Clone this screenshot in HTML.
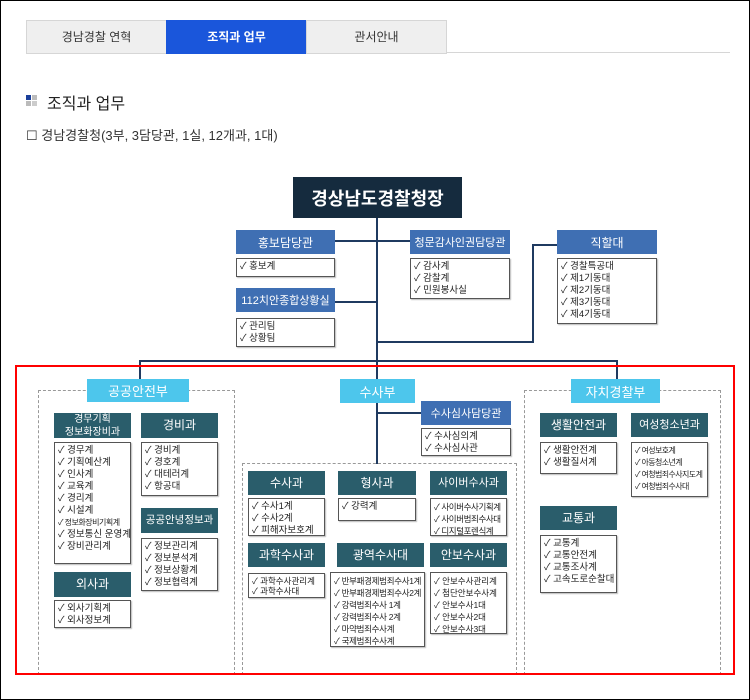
<!DOCTYPE html>
<html><head><meta charset="utf-8"><style>
*{margin:0;padding:0;box-sizing:border-box}
body{width:750px;height:700px;position:relative;background:#fff;font-family:"Liberation Sans","Noto Sans CJK KR",sans-serif;overflow:hidden}
.a{position:absolute}
.frame{left:0;top:0;width:750px;height:700px;border:1px solid #000}
.tab{top:20px;height:34px;border:1px solid #d6d6d6;background:#efefef;font-size:12px;color:#333;text-align:center;line-height:32px}
.t{background:#2a5d6b;color:#fff;text-align:center;font-size:12px;display:flex;align-items:center;justify-content:center;line-height:13px}
.b{background:#3f6fb3;color:#fff;text-align:center;font-size:11px;display:flex;align-items:center;justify-content:center}
.c{background:#4dc6ec;color:#fff;text-align:center;font-size:13px;display:flex;align-items:center;justify-content:center}
.l{border:1px solid #555;background:#fff;font-size:9.5px;line-height:12px;padding:2px 3px;color:#222;white-space:nowrap;overflow:hidden;box-shadow:1px 1px 1px #bbb}
.d{border:1px dashed #999}
.h{background:#1f3a60}
</style></head><body>
<div class="a frame"></div>
<div class="a tab" style="left:26px;width:141px">경남경찰 연혁</div>
<div class="a tab" style="left:166px;width:141px;background:#1a56db;border-color:#1a56db;color:#fff;font-weight:bold">조직과 업무</div>
<div class="a tab" style="left:306px;width:141px">관서안내</div>
<div class="a" style="left:446px;top:52px;width:284px;height:1px;background:#d6d6d6"></div>
<div class="a" style="left:26px;top:95px;width:5px;height:5px;background:#1a3f9a"></div>
<div class="a" style="left:32px;top:95px;width:5px;height:5px;background:#bbb"></div>
<div class="a" style="left:26px;top:101px;width:5px;height:5px;background:#bbb"></div>
<div class="a" style="left:32px;top:101px;width:5px;height:5px;background:#ccc"></div>
<div class="a" style="left:47px;top:90px;font-size:16px;color:#222">조직과 업무</div>
<div class="a" style="left:26px;top:125px;font-size:13px;color:#333">☐ 경남경찰청(3부, 3담당관, 1실, 12개과, 1대)</div>

<div class="a h" style="left:376px;top:218px;width:2px;height:163px"></div>
<div class="a h" style="left:335px;top:240px;width:75px;height:2px"></div>
<div class="a h" style="left:335px;top:301px;width:42px;height:2px"></div>
<div class="a h" style="left:377px;top:341px;width:157px;height:2px"></div>
<div class="a h" style="left:532px;top:244px;width:2px;height:99px"></div>
<div class="a h" style="left:532px;top:244px;width:25px;height:2px"></div>
<div class="a h" style="left:139px;top:360px;width:479px;height:2px"></div>
<div class="a h" style="left:139px;top:360px;width:2px;height:20px"></div>
<div class="a h" style="left:616px;top:360px;width:2px;height:20px"></div>
<div class="a h" style="left:376px;top:400px;width:2px;height:64px"></div>
<div class="a h" style="left:377px;top:412px;width:44px;height:2px"></div>

<div class="a" style="left:293px;top:177px;width:169px;height:41px;background:#152b3e;color:#fff;font-size:18px;font-weight:bold;display:flex;align-items:center;justify-content:center">경상남도경찰청장</div>
<div class="a b" style="left:236px;top:230px;width:99px;height:24px;font-size:12px">홍보담당관</div>
<div class="a l" style="left:236px;top:258px;width:99px;height:19px">✓ 홍보계</div>
<div class="a b" style="left:236px;top:288px;width:99px;height:24px">112치안종합상황실</div>
<div class="a l" style="left:236px;top:318px;width:99px;height:29px">✓ 관리팀<br>✓ 상황팀</div>
<div class="a b" style="left:410px;top:230px;width:100px;height:24px">청문감사인권담당관</div>
<div class="a l" style="left:410px;top:258px;width:100px;height:41px">✓ 감사계<br>✓ 감찰계<br>✓ 민원봉사실</div>
<div class="a b" style="left:557px;top:230px;width:100px;height:24px;font-size:12px">직할대</div>
<div class="a l" style="left:557px;top:258px;width:100px;height:66px">✓ 경찰특공대<br>✓ 제1기동대<br>✓ 제2기동대<br>✓ 제3기동대<br>✓ 제4기동대</div>

<div class="a d" style="left:38px;top:390px;width:197px;height:285px"></div>
<div class="a c" style="left:87px;top:379px;width:102px;height:23px">공공안전부</div>
<div class="a t" style="left:54px;top:413px;width:77px;height:25px;font-size:10px">경무기획<br>정보화장비과</div>
<div class="a l" style="left:54px;top:442px;width:77px;height:122px">✓ 경무계<br>✓ 기획예산계<br>✓ 인사계<br>✓ 교육계<br>✓ 경리계<br>✓ 시설계<br><span style="font-size:8px;letter-spacing:-.5px">✓ 정보화장비기획계</span><br>✓ 정보통신 운영계<br>✓ 장비관리계</div>
<div class="a t" style="left:141px;top:413px;width:77px;height:25px">경비과</div>
<div class="a l" style="left:141px;top:442px;width:77px;height:54px">✓ 경비계<br>✓ 경호계<br>✓ 대테러계<br>✓ 항공대</div>
<div class="a t" style="left:141px;top:508px;width:77px;height:25px;font-size:10.5px">공공안녕정보과</div>
<div class="a l" style="left:141px;top:538px;width:77px;height:53px">✓ 정보관리계<br>✓ 정보분석계<br>✓ 정보상황계<br>✓ 정보협력계</div>
<div class="a t" style="left:54px;top:572px;width:77px;height:25px">외사과</div>
<div class="a l" style="left:54px;top:600px;width:77px;height:28px">✓ 외사기획계<br>✓ 외사정보계</div>

<div class="a c" style="left:340px;top:379px;width:75px;height:24px">수사부</div>
<div class="a b" style="left:421px;top:401px;width:90px;height:24px">수사심사담당관</div>
<div class="a l" style="left:421px;top:428px;width:90px;height:28px">✓ 수사심의계<br>✓ 수사심사관</div>
<div class="a d" style="left:242px;top:463px;width:275px;height:212px"></div>
<div class="a t" style="left:248px;top:471px;width:77px;height:24px">수사과</div>
<div class="a l" style="left:248px;top:498px;width:77px;height:38px">✓ 수사1계<br>✓ 수사2계<br>✓ 피해자보호계</div>
<div class="a t" style="left:338px;top:471px;width:78px;height:24px">형사과</div>
<div class="a l" style="left:338px;top:498px;width:78px;height:23px">✓ 강력계</div>
<div class="a t" style="left:430px;top:471px;width:77px;height:24px;font-size:11px">사이버수사과</div>
<div class="a l" style="left:430px;top:498px;width:77px;height:38px;font-size:8.5px;letter-spacing:-.4px">✓ 사이버수사기획계<br>✓ 사이버범죄수사대<br>✓ 디지털포렌식계</div>
<div class="a t" style="left:248px;top:543px;width:77px;height:24px">과학수사과</div>
<div class="a l" style="left:248px;top:573px;width:77px;height:25px;font-size:8.5px;line-height:10px">✓ 과학수사관리계<br>✓ 과학수사대</div>
<div class="a t" style="left:337px;top:543px;width:87px;height:24px">광역수사대</div>
<div class="a l" style="left:330px;top:572px;width:95px;height:75px;font-size:8.5px;letter-spacing:-.3px;line-height:12px">✓ 반부패경제범죄수사1계<br>✓ 반부패경제범죄수사2계<br>✓ 강력범죄수사 1계<br>✓ 강력범죄수사 2계<br>✓ 마약범죄수사계<br>✓ 국제범죄수사계</div>
<div class="a t" style="left:430px;top:543px;width:77px;height:24px">안보수사과</div>
<div class="a l" style="left:430px;top:572px;width:77px;height:62px;font-size:8.5px">✓ 안보수사관리계<br>✓ 첨단안보수사계<br>✓ 안보수사1대<br>✓ 안보수사2대<br>✓ 안보수사3대</div>

<div class="a d" style="left:524px;top:390px;width:197px;height:285px"></div>
<div class="a c" style="left:571px;top:379px;width:89px;height:24px">자치경찰부</div>
<div class="a t" style="left:540px;top:413px;width:77px;height:24px">생활안전과</div>
<div class="a l" style="left:540px;top:442px;width:77px;height:32px">✓ 생활안전계<br>✓ 생활질서계</div>
<div class="a t" style="left:631px;top:413px;width:77px;height:24px;font-size:11px">여성청소년과</div>
<div class="a l" style="left:631px;top:442px;width:77px;height:55px;font-size:8px;letter-spacing:-.6px">✓ 여성보호계<br>✓ 아동청소년계<br>✓ 여청범죄수사지도계<br>✓ 여청범죄수사대</div>
<div class="a t" style="left:540px;top:506px;width:77px;height:24px">교통과</div>
<div class="a l" style="left:540px;top:535px;width:77px;height:58px">✓ 교통계<br>✓ 교통안전계<br>✓ 교통조사계<br>✓ 고속도로순찰대</div>

<div class="a" style="left:15px;top:365px;width:720px;height:310px;border:2px solid #f00"></div>
</body></html>
